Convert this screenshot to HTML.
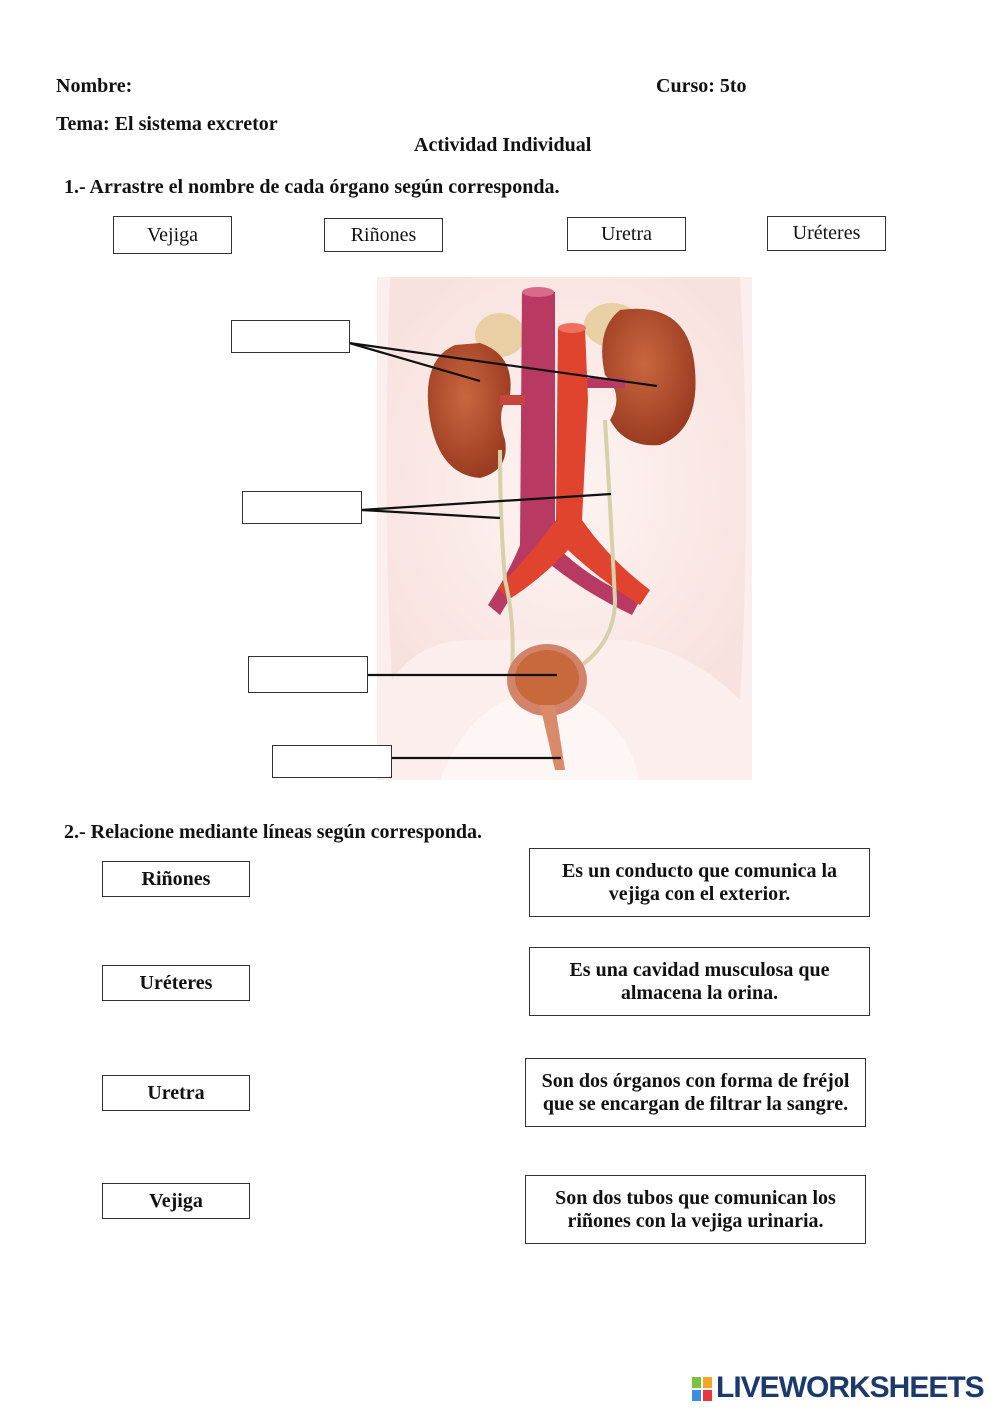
<!DOCTYPE html>
<html><head><meta charset="utf-8"><style>
body{margin:0;width:999px;height:1413px;background:#fff;position:relative;overflow:hidden;font-family:"Liberation Serif",serif;color:#111}
.t{position:absolute;font-weight:bold;font-size:20px;white-space:nowrap}
.b{position:absolute;border:1px solid #333;box-sizing:border-box;background:#fff}
.w{position:absolute;border:1px solid #333;box-sizing:border-box;font-size:20px;text-align:center;display:flex;align-items:center;justify-content:center}
.r{position:absolute;border:1px solid #333;box-sizing:border-box;font-size:20px;font-weight:bold;text-align:center;display:flex;align-items:center;justify-content:center;line-height:23px;white-space:nowrap}
</style></head><body>
<div class="t" style="left:56px;top:75px">Nombre:</div>
<div class="t" style="left:656px;top:75px">Curso: 5to</div>
<div class="t" style="left:56px;top:113px">Tema: El sistema excretor</div>
<div class="t" style="left:414px;top:134px">Actividad Individual</div>
<div class="t" style="left:64px;top:176px">1.- Arrastre el nombre de cada órgano según corresponda.</div>
<div class="w" style="left:113px;top:216px;width:119px;height:38px">Vejiga</div>
<div class="w" style="left:324px;top:218px;width:119px;height:34px">Riñones</div>
<div class="w" style="left:567px;top:217px;width:119px;height:34px">Uretra</div>
<div class="w" style="left:767px;top:216px;width:119px;height:35px">Uréteres</div>

<svg style="position:absolute;left:0;top:0" width="999" height="800">
<defs>
<radialGradient id="bg" cx="50%" cy="50%" r="60%"><stop offset="0" stop-color="#fdf4f2"/><stop offset="1" stop-color="#f8e2df"/></radialGradient>
<radialGradient id="kid" cx="45%" cy="40%" r="60%"><stop offset="0" stop-color="#c8673e"/><stop offset="1" stop-color="#9b3c22"/></radialGradient>
</defs>
<rect x="377" y="277" width="375" height="503" fill="#fbeeec"/>
<path d="M390 277 Q382 500 392 680 Q420 640 470 640 L625 640 Q690 650 740 700 Q752 500 740 277 Z" fill="url(#bg)"/>
<path d="M440 780 Q470 700 540 690 Q620 700 640 780 Z" fill="#fdf6f5"/>
<ellipse cx="500" cy="335" rx="25" ry="22" fill="#e8cfa4"/>
<ellipse cx="612" cy="325" rx="28" ry="22" fill="#e8cfa4"/>
<path d="M455 345 Q420 360 430 420 Q440 475 480 478 Q510 470 505 440 Q495 410 510 395 Q515 355 480 343 Z" fill="url(#kid)"/>
<path d="M620 310 Q690 300 695 370 Q700 430 660 445 Q625 448 610 420 Q625 395 605 375 Q595 330 620 310 Z" fill="url(#kid)"/>
<path d="M522 292 L555 292 L555 545 Q590 580 640 600 L632 615 Q580 590 545 560 Q520 580 500 615 L488 605 Q510 570 520 545 Z" fill="#b83a62"/>
<ellipse cx="538" cy="292" rx="16" ry="5" fill="#d86a8a"/>
<rect x="500" y="395" width="25" height="10" fill="#c8453e"/>
<rect x="585" y="378" width="40" height="10" fill="#b83a62"/>
<path d="M558 328 L585 328 L588 400 L582 520 Q610 560 650 590 L640 605 Q600 580 568 550 Q540 580 508 600 L498 588 Q530 555 556 520 Z" fill="#e0432e"/>
<ellipse cx="572" cy="328" rx="14" ry="5" fill="#f07060"/>
<path d="M500 450 Q500 520 505 580 Q515 620 512 670" stroke="#d8d0a8" stroke-width="4" fill="none"/>
<path d="M605 420 Q610 500 615 600 Q615 640 582 665" stroke="#d8d0a8" stroke-width="4" fill="none"/>
<ellipse cx="547" cy="680" rx="40" ry="36" fill="#d2846a"/>
<ellipse cx="547" cy="678" rx="32" ry="28" fill="#c8693c"/>
<path d="M540 705 L555 705 L565 770 L555 770 Z" fill="#d88a6a"/>
<g stroke="#111" stroke-width="2.2" fill="none">
<line x1="349" y1="343" x2="480" y2="381"/>
<line x1="349" y1="343" x2="657" y2="386"/>
<line x1="361" y1="510" x2="611" y2="494"/>
<line x1="361" y1="510" x2="500" y2="518"/>
<line x1="367" y1="675" x2="557" y2="675"/>
<line x1="391" y1="758" x2="561" y2="758"/>
</g>
</svg>
<div class="b" style="left:231px;top:320px;width:119px;height:33px"></div>
<div class="b" style="left:242px;top:491px;width:120px;height:33px"></div>
<div class="b" style="left:248px;top:656px;width:120px;height:37px"></div>
<div class="b" style="left:272px;top:745px;width:120px;height:33px"></div>

<div class="t" style="left:64px;top:821px">2.- Relacione mediante líneas según corresponda.</div>
<div class="r" style="left:102px;top:861px;width:148px;height:36px">Riñones</div>
<div class="r" style="left:102px;top:965px;width:148px;height:36px">Uréteres</div>
<div class="r" style="left:102px;top:1075px;width:148px;height:36px">Uretra</div>
<div class="r" style="left:102px;top:1183px;width:148px;height:36px">Vejiga</div>
<div class="r" style="left:529px;top:848px;width:341px;height:69px">Es un conducto que comunica la<br>vejiga con el exterior.</div>
<div class="r" style="left:529px;top:947px;width:341px;height:69px">Es una cavidad musculosa que<br>almacena la orina.</div>
<div class="r" style="left:525px;top:1058px;width:341px;height:69px">Son dos órganos con forma de fréjol<br>que se encargan de filtrar la sangre.</div>
<div class="r" style="left:525px;top:1175px;width:341px;height:69px">Son dos tubos que comunican los<br>riñones con la vejiga urinaria.</div>

<div style="position:absolute;left:692px;top:1377px;width:20px;height:24px">
<div style="position:absolute;left:0;top:0;width:9px;height:11px;background:#7cc242"></div>
<div style="position:absolute;left:11px;top:0;width:9px;height:11px;background:#f5a623"></div>
<div style="position:absolute;left:0;top:13px;width:9px;height:11px;background:#3a8de0"></div>
<div style="position:absolute;left:11px;top:13px;width:9px;height:11px;background:#e8383d"></div>
</div>
<div style="position:absolute;left:716px;top:1371px;font-family:'Liberation Sans',sans-serif;font-weight:bold;font-size:30px;color:#1b3a6b;letter-spacing:-1px">LIVEWORKSHEETS</div>
</body></html>
